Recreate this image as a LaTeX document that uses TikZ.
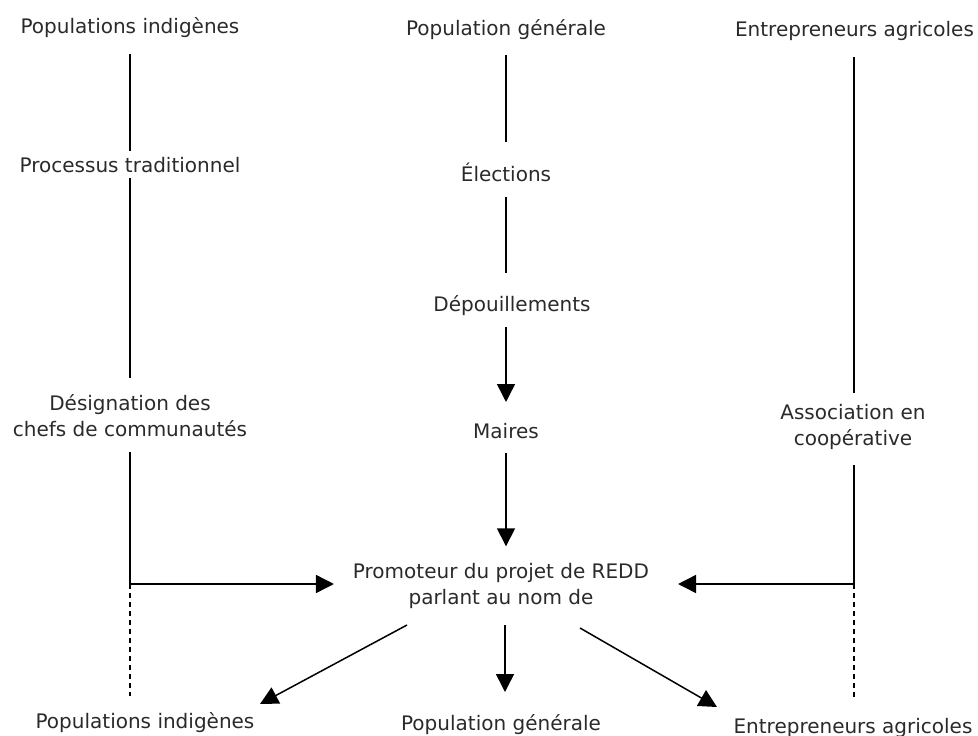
\documentclass[tikz,border=0pt]{standalone}
\usepackage{fontspec}
\setmainfont{DejaVu Sans}
\usetikzlibrary{arrows.meta}
\definecolor{txt}{HTML}{2A2A2A}
\begin{document}
\begin{tikzpicture}[x=1pt,y=-1pt,
  lbl/.style={anchor=base, inner sep=0pt, outer sep=0pt, text=txt, align=center,
    font=\fontsize{20}{25.5}\selectfont,
    execute at begin node=\rule{0pt}{20pt},
    execute at end node=\rule[-6pt]{0pt}{6pt}},
  link/.style={draw=black, line width=1.5pt},
  arr/.style={link, -{Triangle[length=18pt,width=18pt]}},
  dashlink/.style={link, dash pattern=on 5pt off 4pt}]
\useasboundingbox (0,0) rectangle (978,736);

% left column: indigenous peoples (base = last baseline of a node)
\node[lbl] (pi1) at (130,34) {Populations indigènes};
\node[lbl] (pt)  at (130,172) {Processus traditionnel};
\node[lbl] (dc)  at (130,436) {Désignation des\\chefs de communautés};
\node[lbl] (pi2) at (145,728) {Populations indigènes};

% middle column: general population
\node[lbl] (pg1) at (506,35) {Population générale};
\node[lbl] (el)  at (506,181) {Élections};
\node[lbl] (dep) at (512,311) {Dépouillements};
\node[lbl] (ma)  at (506,438) {Maires};
\node[lbl] (pr)  at (501,604) {Promoteur du projet de REDD\\parlant au nom de};
\node[lbl] (pg2) at (501,730) {Population générale};

% right column: agricultural entrepreneurs
\node[lbl] (ea1) at (854.5,36) {Entrepreneurs agricoles};
\node[lbl] (ac)  at (853,445) {Association en\\coopérative};
\node[lbl] (ea2) at (853,733) {Entrepreneurs agricoles};

% junctions where the side chains turn toward the promoter
\coordinate (lj) at (130,584);
\coordinate (le) at (130,696);
\coordinate (rj) at (854,584);
\coordinate (re) at (854,697);

% left chain
\draw[link, shorten <=13.7pt, shorten >=1.3pt] (pi1.south) -- (pt.north);
\draw[link, shorten >=17pt] (pt.south) -- (dc.north);
\draw[link, shorten <=10pt] (dc.south) -- (lj);
\draw[arr] (lj) -- ([xshift=-19pt]lj -| pr.west);
\draw[dashlink] (lj) -- (le);

% middle chain
\draw[link, shorten <=14pt, shorten >=19pt] (pg1.south) -- (el.north);
\draw[link, shorten <=10pt, shorten >=18pt] (el.south) -- (el.south |- dep.north);
\draw[arr, shorten <=10pt, shorten >=16pt] (dep.south -| ma.north) -- (ma.north);
\draw[arr, shorten <=9pt, shorten >=17pt] (ma.south) -- (ma.south |- pr.north);

% right chain
\draw[link, shorten <=15pt, shorten >=11pt] (rj |- ea1.south) -- (rj |- ac.north);
\draw[link, shorten <=14pt] (rj |- ac.south) -- (rj);
\draw[arr] (rj) -- ([xshift=29pt]rj -| pr.east);
\draw[dashlink] (rj) -- (re);

% the promoter speaks on behalf of the three groups
\draw[arr] ([shift={(-94,15)}]pr.south) -- ([shift={(115,-4)}]pi2.north);
\draw[arr] ([shift={(4,15)}]pr.south) -- ([shift={(4,-18)}]pg2.north);
\draw[arr] ([shift={(79,18)}]pr.south) -- ([shift={(-136,-6)}]ea2.north);
\end{tikzpicture}
\end{document}
